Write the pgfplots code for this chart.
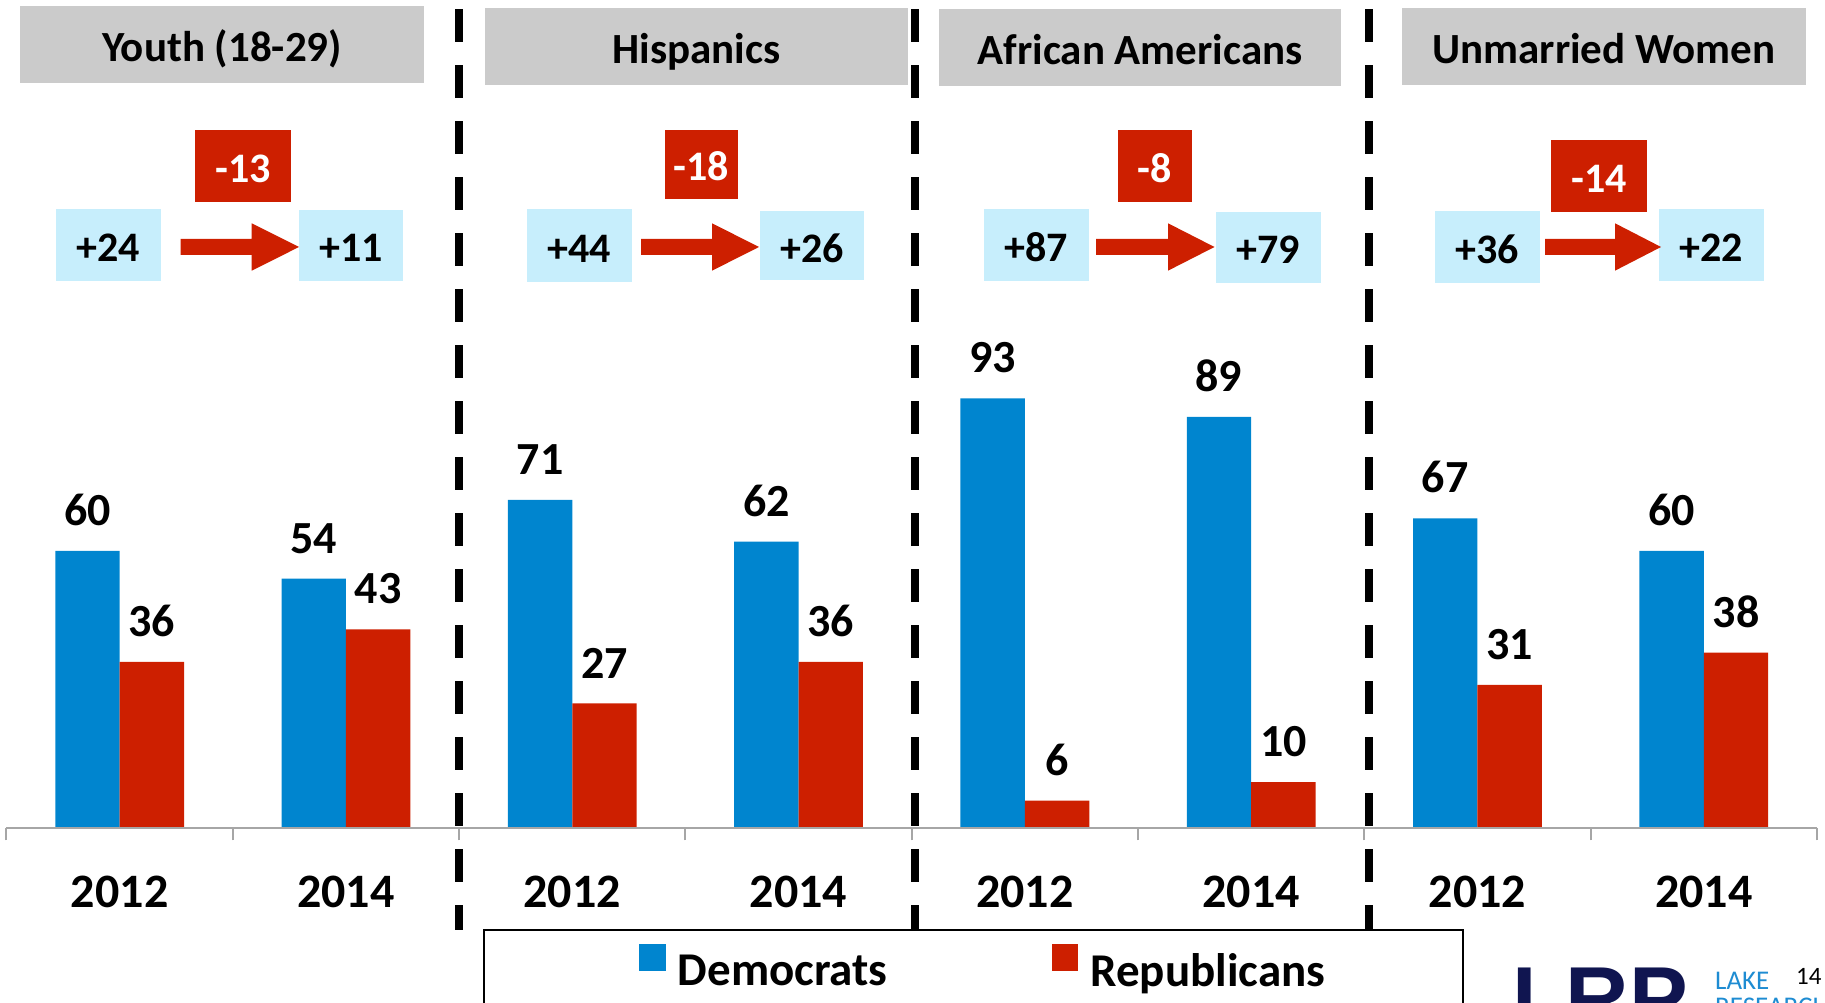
\documentclass[border=0pt]{standalone}
\usepackage{fontspec}
\setmainfont{Carlito}
\newfontfamily\logofont{Liberation Sans}
\usepackage{pgfplots}
\pgfplotsset{compat=1.18}
\definecolor{demblue}{RGB}{0,133,207}
\definecolor{repred}{RGB}{205,31,0}
\definecolor{hdrgray}{RGB}{203,203,203}
\definecolor{boxblue}{RGB}{199,238,252}
\definecolor{axisgray}{RGB}{166,166,166}
\definecolor{navy}{RGB}{16,21,80}
\definecolor{lakeblue}{RGB}{30,140,210}

% header box: x1 y1 x2 y2 text
\newcommand{\hdr}[5]{%
  \fill[hdrgray] (#1,#2) rectangle (#3,#4);
  \node[anchor=base, inner sep=0pt, font=\fontsize{43}{52}\selectfont\bfseries] at ({(#1+#3)/2},{(#2+#4)/2+17}) {#5};
}
% margin box: x1 y1 x2 y2 fill textcolor text
\newcommand{\mbx}[7]{%
  \fill[#5] (#1,#2) rectangle (#3,#4);
  \node[anchor=base, inner sep=0pt, text=#6, font=\fontsize{42}{50}\selectfont\bfseries] at ({(#1+#3)/2},{(#2+#4)/2+16.5}) {#7};
}
% arrow: x start, head start, tip, y centre
\newcommand{\arr}[4]{%
  \fill[repred] (#1,#4-8) -- (#2,#4-8) -- (#2,#4-23.7) -- (#3,#4) -- (#2,#4+23.7) -- (#2,#4+8) -- (#1,#4+8) -- cycle;
}

\begin{document}
\begin{tikzpicture}
\begin{scope}[x=1pt,y=-1pt,yshift=1003pt]
  % headers
  \hdr{20}{6}{424}{83}{Youth (18-29)}
  \hdr{485}{8}{908}{85}{Hispanics}
  \hdr{939}{9}{1341}{86}{African Americans}
  \hdr{1402}{8}{1806}{85}{Unmarried Women}
  % group 1
  \mbx{195}{130}{291}{201.7}{repred}{white}{-13}
  \mbx{56}{209}{161}{280.7}{boxblue}{black}{+24}
  \mbx{299}{210.3}{402.7}{280.7}{boxblue}{black}{+11}
  \arr{180.7}{251.7}{299}{247}
  % group 2
  \mbx{665}{130}{738}{199}{repred}{white}{-18}
  \mbx{527}{209.5}{632}{282}{boxblue}{black}{+44}
  \mbx{760}{211}{864}{280.5}{boxblue}{black}{+26}
  \arr{641}{712}{759}{247}
  % group 3
  \mbx{1118}{130}{1192}{201.7}{repred}{white}{-8}
  \mbx{984}{209}{1089}{280.7}{boxblue}{black}{+87}
  \mbx{1216}{212}{1321}{282.7}{boxblue}{black}{+79}
  \arr{1096}{1168}{1214.5}{247}
  % group 4
  \mbx{1551}{140}{1647}{211.7}{repred}{white}{-14}
  \mbx{1435}{211}{1540}{282.7}{boxblue}{black}{+36}
  \mbx{1659}{209}{1764}{280.7}{boxblue}{black}{+22}
  \arr{1545}{1615}{1661}{247}
  % separators
  \foreach \sx in {459,915,1369}
    \draw[line width=7.3pt, dash pattern=on 32.3pt off 23.7pt] (\sx,9.3) -- (\sx,930);
  % legend frame
  \draw[black, line width=1.5pt] (484,930) rectangle (1463,1030);
  % logo and page number
  \node[anchor=base west, inner sep=0pt, text=navy, font=\logofont\bfseries\fontsize{88}{100}\selectfont] at (1512,1029) {LRP};
  \node[anchor=base west, inner sep=0pt, text=lakeblue, font=\fontsize{27}{32}\selectfont] at (1715,990) {LAKE};
  \node[anchor=base west, inner sep=0pt, text=lakeblue, font=\fontsize{27}{32}\selectfont] at (1715,1016) {RESEARCH};
  \node[anchor=base west, inner sep=0pt, font=\fontsize{25}{30}\selectfont] at (1796,985) {14};
\end{scope}

\begin{axis}[
  at={(0,0)}, anchor=south west,
  scale only axis, width=1825pt, height=1003pt,
  xmin=-0.52872, xmax=7.53584,
  ymin=-37.78, ymax=179.13,
  axis y line=none,
  axis x line*=middle,
  x axis line style={draw=none},
  xtick={0,...,7},
  xticklabels={2012,2014,2012,2014,2012,2014,2012,2014},
  minor xtick={-0.5,0.5,...,7.5},
  major tick length=0pt, minor tick length=12pt,
  xtick align=outside,
  minor x tick style={axisgray, line width=2pt},
  xticklabel style={font=\fontsize{48}{58}\selectfont\bfseries, anchor=base, yshift=-79pt, inner sep=0pt},
  /pgf/number format/assume math mode=true,
  ybar=0pt, bar width=64.4pt,
  nodes near coords,
  every node near coord/.append style={font=\fontsize{46}{56}\selectfont\bfseries, anchor=south, inner sep=0pt, yshift=25pt, text=black},
  clip=false,
  legend columns=2,
  legend image code/.code={\fill[#1] (0pt,0pt) rectangle (26.7pt,26.7pt);},
  legend style={at={(axis description cs:0.3501,0.0366)}, anchor=west, draw=none, fill=none,
    font=\fontsize{47}{56}\selectfont\bfseries, inner sep=0pt, nodes={inner sep=0pt},
    /tikz/every odd column/.append style={column sep=12pt},
    /tikz/every even column/.append style={column sep=164pt}},
]
\addplot[fill=demblue, draw=none] coordinates {(0,60) (1,54) (2,71) (3,62) (4,93) (5,89) (6,67) (7,60)};
\addplot[fill=repred, draw=none] coordinates {(0,36) (1,43) (2,27) (3,36) (4,6) (5,10) (6,31) (7,38)};
\legend{Democrats, Republicans}
\draw[axisgray, line width=2pt] (axis cs:-0.5,0) -- (axis cs:7.5,0);
\end{axis}
\pgfresetboundingbox
\path (0,0) rectangle (1825pt,1003pt);
\end{tikzpicture}
\end{document}
